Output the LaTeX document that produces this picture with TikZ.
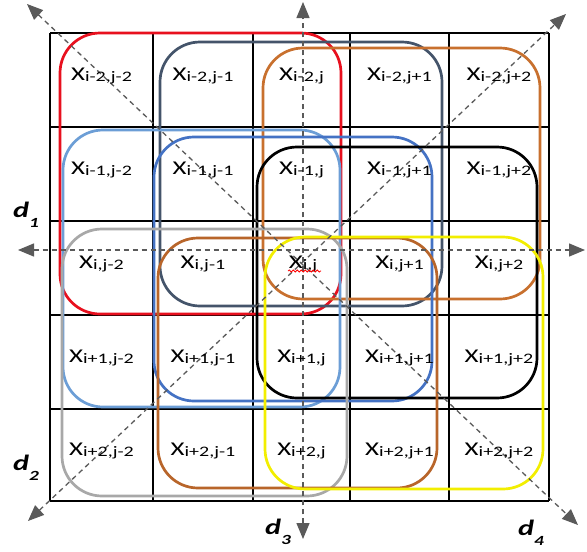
\documentclass[tikz,border=0pt]{standalone}
\usepackage{fontspec}
\setmainfont{Carlito}
\usetikzlibrary{arrows.meta,decorations.pathmorphing}
\definecolor{cred}{HTML}{E8101E}
\definecolor{cslate}{HTML}{44546A}
\definecolor{corange}{HTML}{C8702E}
\definecolor{clblue}{HTML}{6C9ED6}
\definecolor{cblue}{HTML}{4472C4}
\definecolor{cgray}{HTML}{A8A8A8}
\definecolor{cbrown}{HTML}{B8652A}
\definecolor{cyellow}{HTML}{F2EE00}
\definecolor{cdash}{HTML}{5A5A5A}
\newcommand{\cx}[1]{\scalebox{1.38}[1]{\fontsize{19.5}{19.5}\selectfont X\raisebox{-1pt}{\fontsize{14.5}{14.5}\selectfont #1}}}
\newcommand{\dl}[1]{\scalebox{1.38}[1]{\fontsize{22}{22}\selectfont\bfseries\itshape d\raisebox{-10pt}{\fontsize{14}{14}\selectfont #1}}}
\tikzset{
  gridline/.style={line width=1.2pt,black},
  grp/.style={line width=2.7pt,rounded corners=40pt},
  cell/.style={anchor=base,inner sep=0pt},
  dirline/.style={line width=1.3pt,cdash,dash pattern=on 5pt off 4pt,
    {Triangle[length=16pt,width=13pt,fill=cdash]}-{Triangle[length=16pt,width=13pt,fill=cdash]}},
  dlab/.style={anchor=base west,inner sep=0pt}
}
\begin{document}
\begin{tikzpicture}[x=1pt,y=-1pt]
\useasboundingbox (0,0) rectangle (587,552);
\fill[white] (0,0) rectangle (587,552);
% grid
\foreach \xx in {50,153,253,350,449,549} \draw[gridline] (\xx,33) -- (\xx,501);
\foreach \yy in {33,127,221,315,409,501} \draw[gridline] (50,\yy) -- (549,\yy);
% groups
\draw[grp,cred] (60,33) rectangle (341,314);
\draw[grp,cslate] (160,42) rectangle (442,306);
\draw[grp,corange] (263,48) rectangle (540,299);
\draw[grp,clblue] (63,130) rectangle (340,407);
\draw[grp,cblue] (154,137) rectangle (432,401);
\draw[grp,black] (257,147) rectangle (537,398);
\draw[grp,cgray] (62,229) rectangle (347,496);
\draw[grp,cbrown] (158,238) rectangle (437,488);
\draw[grp,cyellow] (265,237) rectangle (543,489);
% direction coordinates
\coordinate (v1) at (303,539); \coordinate (v2) at (303,2);
\coordinate (h1) at (18,250); \coordinate (h2) at (585,250);
\coordinate (a1) at (27,4); \coordinate (a2) at (578,525);
\coordinate (b1) at (566,14); \coordinate (b2) at (28,521);
\draw[dirline] (h1) -- (h2);
\draw[dirline] (v1) -- (v2);
\draw[dirline] (a1) -- (a2);
\draw[dirline] (b2) -- (b1);
% cell texts
\node[cell] (n11) at (101.5,80) {\cx{i-2,j-2}};
\node[cell] (n12) at (203,80) {\cx{i-2,j-1}};
\node[cell] (n13) at (301.5,80) {\cx{i-2,j}};
\node[cell] (n14) at (399.5,80) {\cx{i-2,j+1}};
\node[cell] (n15) at (499,80) {\cx{i-2,j+2}};
\node[cell] (n21) at (101.5,174) {\cx{i-1,j-2}};
\node[cell] (n22) at (203,174) {\cx{i-1,j-1}};
\node[cell] (n23) at (301.5,174) {\cx{i-1,j}};
\node[cell] (n24) at (399.5,174) {\cx{i-1,j+1}};
\node[cell] (n25) at (499,174) {\cx{i-1,j+2}};
\node[cell] (n31) at (101.5,268) {\cx{i,j-2}};
\node[cell] (n32) at (203,268) {\cx{i,j-1}};
\node[cell] (n33) at (303,268) {\cx{i,j}};
\node[cell] (n34) at (399.5,268) {\cx{i,j+1}};
\node[cell] (n35) at (499,268) {\cx{i,j+2}};
\node[cell] (n41) at (101.5,362) {\cx{i+1,j-2}};
\node[cell] (n42) at (203,362) {\cx{i+1,j-1}};
\node[cell] (n43) at (301.5,362) {\cx{i+1,j}};
\node[cell] (n44) at (399.5,362) {\cx{i+1,j+1}};
\node[cell] (n45) at (499,362) {\cx{i+1,j+2}};
\node[cell] (n51) at (101.5,455) {\cx{i+2,j-2}};
\node[cell] (n52) at (203,455) {\cx{i+2,j-1}};
\node[cell] (n53) at (301.5,455) {\cx{i+2,j}};
\node[cell] (n54) at (399.5,455) {\cx{i+2,j+1}};
\node[cell] (n55) at (499,455) {\cx{i+2,j+2}};
% spell-check squiggle
\coordinate (s1) at (288,271); \coordinate (s2) at (321,271);
\draw[red,line width=0.8pt,decorate,decoration={snake,amplitude=1pt,segment length=4pt}] (s1) -- (s2);
% direction labels
\node[dlab] (d1) at (13,217) {\dl{1}};
\node[dlab] (d2) at (13,470) {\dl{2}};
\node[dlab] (d3) at (265,534) {\dl{3}};
\node[dlab] (d4) at (518,535) {\dl{4}};
\end{tikzpicture}
\end{document}
